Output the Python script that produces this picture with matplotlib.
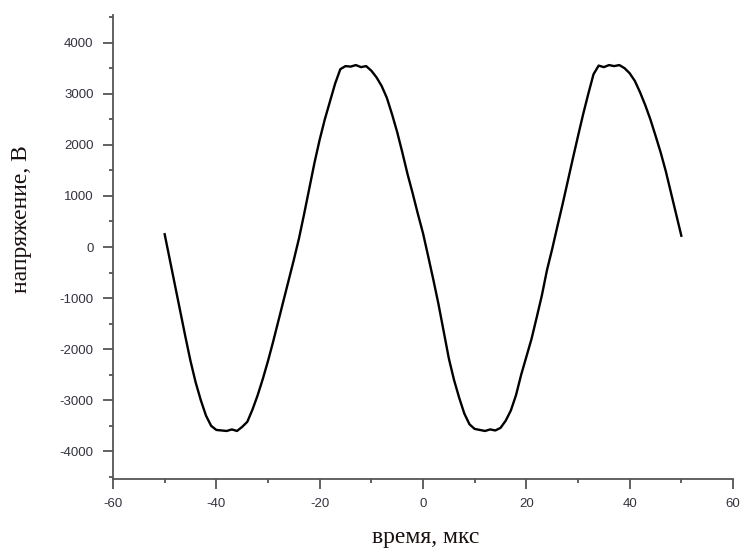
import numpy as np
import matplotlib
matplotlib.use("Agg")
import matplotlib.pyplot as plt
from matplotlib.ticker import MultipleLocator

plt.rcParams["axes.unicode_minus"] = False

# time, microseconds
time_us = list(range(-50, 51))
# voltage, V
voltage_v = [
    250, -250, -750, -1250, -1750, -2230, -2650, -3000, -3300, -3500,   # -50..-41
    -3580, -3590, -3600, -3570, -3600, -3520, -3420, -3180, -2900, -2580,  # -40..-31
    -2230, -1850, -1450, -1050, -650, -250, 170, 650, 1150, 1650,       # -30..-21
    2100, 2500, 2850, 3200, 3480, 3540, 3530, 3560, 3520, 3540,         # -20..-11
    3450, 3320, 3150, 2920, 2600, 2250, 1850, 1430, 1050, 650,          # -10..-1
    270, -180, -640, -1120, -1650, -2180, -2600, -2950, -3260, -3470,   # 0..9
    -3560, -3580, -3600, -3570, -3590, -3540, -3400, -3200, -2900, -2500,  # 10..19
    -2150, -1800, -1380, -950, -450, -40, 400, 830, 1280, 1730,         # 20..29
    2170, 2600, 3000, 3380, 3550, 3520, 3560, 3540, 3560, 3500,         # 30..39
    3400, 3250, 3030, 2780, 2500, 2180, 1850, 1480, 1060, 640,          # 40..49
    220,                                                                 # 50
]

x_ticks = [-60, -40, -20, 0, 20, 40, 60]
y_ticks = [-4000, -3000, -2000, -1000, 0, 1000, 2000, 3000, 4000]
x_label = "время, мкс"
y_label = "напряжение, В"

fig = plt.figure(figsize=(7.42, 5.5), dpi=100)
ax = fig.add_axes([113 / 742, 1 - 479 / 550, 620 / 742, 464 / 550])

ax.plot(time_us, voltage_v, color="black", linewidth=1.7, solid_joinstyle="round")

ax.set_xlim(-60, 60)
ax.set_ylim(-4540, 4540)
ax.set_xticks(x_ticks)
ax.set_yticks(y_ticks)
ax.xaxis.set_minor_locator(MultipleLocator(10))
ax.yaxis.set_minor_locator(MultipleLocator(500))

spine_col = "#555555"
for s in ["top", "right"]:
    ax.spines[s].set_visible(False)
for s in ["left", "bottom"]:
    ax.spines[s].set_color(spine_col)
    ax.spines[s].set_linewidth(1.3)

tick_col = "#333340"
ax.tick_params(axis="both", which="major", direction="out", length=7, width=1.3,
               color=spine_col, labelsize=9.5, labelcolor=tick_col, pad=7)
ax.tick_params(axis="both", which="minor", direction="out", length=3, width=1.3,
               color=spine_col)
for lbl in ax.get_xticklabels() + ax.get_yticklabels():
    lbl.set_fontfamily("Liberation Sans")

ax.set_xlabel(x_label, fontfamily="Liberation Serif", fontsize=17, color="#1a1010")
ax.xaxis.set_label_coords(0.505, -0.127)
ax.xaxis.label.set_va("center")
ax.set_ylabel(y_label, fontfamily="Liberation Serif", fontsize=17, color="#1a1010")
ax.yaxis.set_label_coords(-0.147, 0.56)
ax.yaxis.label.set_va("center")

fig.savefig("out.png", dpi=100)
